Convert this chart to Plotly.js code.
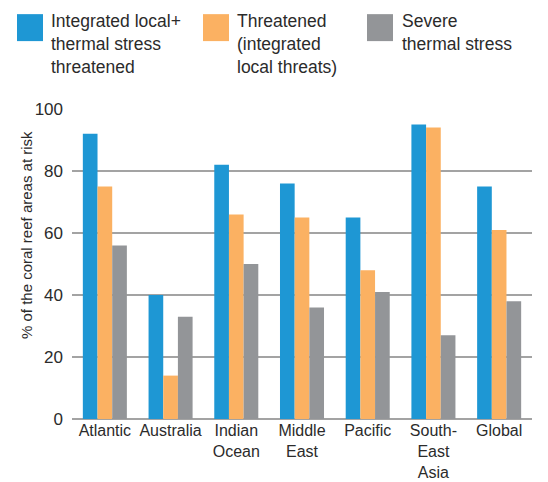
<!DOCTYPE html>
<html>
<head>
<meta charset="utf-8">
<script src="https://cdn.plot.ly/plotly-3.0.1.min.js"></script>
<style>html,body{margin:0;padding:0;background:#fff;}#chart{width:548px;height:482px;}</style>
</head>
<body>
<div id="chart"></div>
<script>
var categories = ["Atlantic", "Australia", "Indian<br>Ocean", "Middle<br>East", "Pacific", "South-<br>East<br>Asia", "Global"];
var seriesNames = ["Integrated local+<br>thermal stress<br>threatened", "Threatened<br>(integrated<br>local threats)", "Severe<br>thermal stress"];
var integratedThreat = [92, 40, 82, 76, 65, 95, 75];
var localThreat = [75, 14, 66, 65, 48, 94, 61];
var thermalStress = [56, 33, 50, 36, 41, 27, 38];
var yTicks = [0, 20, 40, 60, 80, 100];
var yTitle = "% of the coral reef areas at risk";

var colors = ["#1e97d4", "#fbb162", "#939598"];
var allSeries = [integratedThreat, localThreat, thermalStress];

var traces = allSeries.map(function (vals, i) {
  return {
    type: "bar",
    x: categories,
    y: vals,
    name: seriesNames[i],
    marker: { color: colors[i], line: { width: 0 } },
    hoverinfo: "y"
  };
});

var fontFam = "Liberation Sans, Arial, sans-serif";
var txtColor = "#2b2b2b";

// legend drawn with shapes + annotations (paper coords)
var sqX = [[-0.1196, -0.063], [0.2848, 0.3413], [0.6413, 0.6978]];
var txX = [-0.0478, 0.3565, 0.7152];
var shapes = [];
var annotations = [];
for (var i = 0; i < 3; i++) {
  shapes.push({
    type: "rect", xref: "paper", yref: "paper",
    x0: sqX[i][0], x1: sqX[i][1], y0: 1.219, y1: 1.306,
    fillcolor: colors[i], line: { width: 0 }
  });
  annotations.push({
    xref: "paper", yref: "paper", x: txX[i], y: 1.318,
    xanchor: "left", yanchor: "top", align: "left",
    showarrow: false, borderpad: 0,
    text: seriesNames[i],
    font: { family: fontFam, size: 17.5, color: txtColor }
  });
}
annotations.push({
  xref: "paper", yref: "paper", x: -0.1, y: 0.5935,
  xanchor: "center", yanchor: "middle", textangle: -90,
  showarrow: false, text: yTitle,
  font: { family: fontFam, size: 15, color: txtColor }
});

var layout = {
  width: 548, height: 482,
  margin: { l: 72, r: 16, t: 109, b: 63 },
  paper_bgcolor: "#ffffff", plot_bgcolor: "#ffffff",
  showlegend: false,
  barmode: "group",
  bargap: 0.33,
  bargroupgap: 0,
  font: { family: fontFam, size: 16, color: txtColor },
  xaxis: {
    type: "category",
    showgrid: false, showline: false, ticks: "",
    zeroline: false,
    tickfont: { family: fontFam, size: 16, color: txtColor }
  },
  yaxis: {
    range: [0, 100],
    tickvals: yTicks,
    showgrid: true, gridcolor: "#a3a3a3", gridwidth: 1.3,
    zeroline: true, zerolinecolor: "#a3a3a3", zerolinewidth: 1.3,
    showline: false, ticks: "",
    ticklabelstandoff: 8,
    tickfont: { family: fontFam, size: 17, color: txtColor }
  },
  shapes: shapes,
  annotations: annotations
};

Plotly.newPlot("chart", traces, layout, { displayModeBar: false, staticPlot: true });
</script>
</body>
</html>
